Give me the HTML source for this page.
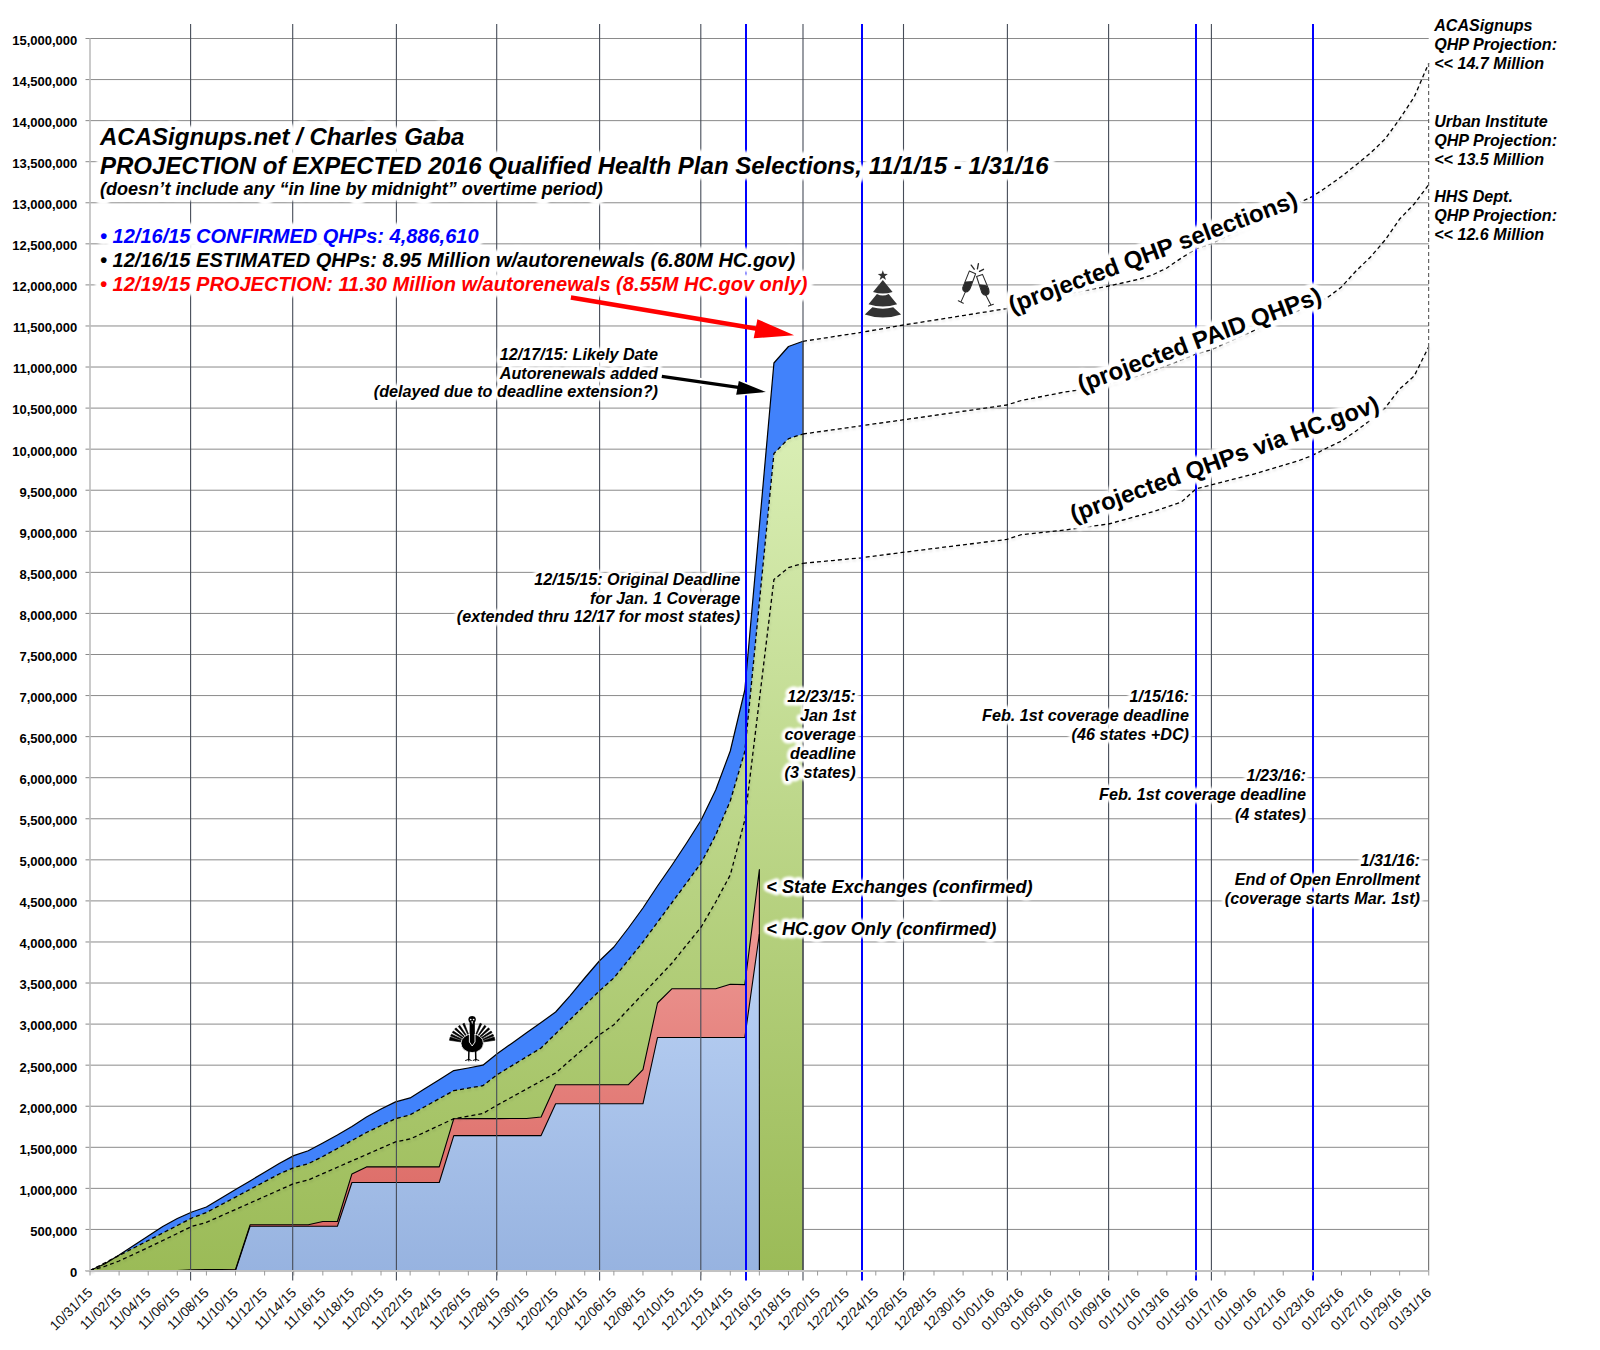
<!DOCTYPE html>
<html><head><meta charset="utf-8"><title>ACASignups 2016 QHP projection</title>
<style>
html,body{margin:0;padding:0;background:#fff;}
svg{display:block;font-family:"Liberation Sans",sans-serif;}
.h{stroke:#fff;stroke-linejoin:round;paint-order:stroke;}
</style></head><body>
<svg width="1600" height="1350" viewBox="0 0 1600 1350">
<defs>
<linearGradient id="gG" x1="0" y1="434" x2="0" y2="1271" gradientUnits="userSpaceOnUse">
<stop offset="0" stop-color="#d9eeb4"/><stop offset="1" stop-color="#9bbb57"/></linearGradient>
<linearGradient id="gR" x1="0" y1="869" x2="0" y2="1271" gradientUnits="userSpaceOnUse">
<stop offset="0" stop-color="#f0a09c"/><stop offset="1" stop-color="#d9625d"/></linearGradient>
<linearGradient id="gL" x1="0" y1="934" x2="0" y2="1271" gradientUnits="userSpaceOnUse">
<stop offset="0" stop-color="#bcd3f5"/><stop offset="1" stop-color="#97b3e0"/></linearGradient>
<filter id="dsh" x="-5%" y="-20%" width="110%" height="140%"><feDropShadow dx="0.5" dy="2" stdDeviation="1" flood-color="#000" flood-opacity="0.13"/></filter>
<filter id="soft" x="-5%" y="-20%" width="110%" height="140%"><feGaussianBlur stdDeviation="0.8"/></filter>
</defs>
<rect width="1600" height="1350" fill="#fff"/>

<g stroke="#8a8a8a" stroke-width="1">
<line x1="85.5" y1="38.5" x2="1428.7" y2="38.5"/>
<line x1="85.5" y1="79.57" x2="1428.7" y2="79.57"/>
<line x1="85.5" y1="120.63" x2="1428.7" y2="120.63"/>
<line x1="85.5" y1="161.7" x2="1428.7" y2="161.7"/>
<line x1="85.5" y1="202.77" x2="1428.7" y2="202.77"/>
<line x1="85.5" y1="243.83" x2="1428.7" y2="243.83"/>
<line x1="85.5" y1="284.9" x2="1428.7" y2="284.9"/>
<line x1="85.5" y1="325.97" x2="1428.7" y2="325.97"/>
<line x1="85.5" y1="367.03" x2="1428.7" y2="367.03"/>
<line x1="85.5" y1="408.1" x2="1428.7" y2="408.1"/>
<line x1="85.5" y1="449.17" x2="1428.7" y2="449.17"/>
<line x1="85.5" y1="490.23" x2="1428.7" y2="490.23"/>
<line x1="85.5" y1="531.3" x2="1428.7" y2="531.3"/>
<line x1="85.5" y1="572.37" x2="1428.7" y2="572.37"/>
<line x1="85.5" y1="613.43" x2="1428.7" y2="613.43"/>
<line x1="85.5" y1="654.5" x2="1428.7" y2="654.5"/>
<line x1="85.5" y1="695.57" x2="1428.7" y2="695.57"/>
<line x1="85.5" y1="736.63" x2="1428.7" y2="736.63"/>
<line x1="85.5" y1="777.7" x2="1428.7" y2="777.7"/>
<line x1="85.5" y1="818.77" x2="1428.7" y2="818.77"/>
<line x1="85.5" y1="859.83" x2="1428.7" y2="859.83"/>
<line x1="85.5" y1="900.9" x2="1428.7" y2="900.9"/>
<line x1="85.5" y1="941.97" x2="1428.7" y2="941.97"/>
<line x1="85.5" y1="983.03" x2="1428.7" y2="983.03"/>
<line x1="85.5" y1="1024.1" x2="1428.7" y2="1024.1"/>
<line x1="85.5" y1="1065.17" x2="1428.7" y2="1065.17"/>
<line x1="85.5" y1="1106.23" x2="1428.7" y2="1106.23"/>
<line x1="85.5" y1="1147.3" x2="1428.7" y2="1147.3"/>
<line x1="85.5" y1="1188.37" x2="1428.7" y2="1188.37"/>
<line x1="85.5" y1="1229.43" x2="1428.7" y2="1229.43"/>
<line x1="85.5" y1="1270.5" x2="1428.7" y2="1270.5"/>
</g>
<polygon points="90.00,1270.50 90.00,1270.50 104.55,1264.00 119.10,1255.00 133.65,1245.50 148.21,1236.00 162.76,1226.50 177.31,1218.50 191.86,1212.00 206.41,1207.00 220.96,1198.30 235.52,1189.60 250.07,1180.90 264.62,1172.20 279.17,1163.50 293.72,1155.60 308.27,1150.80 322.83,1143.00 337.38,1135.00 351.93,1126.50 366.48,1117.00 381.03,1109.00 395.58,1101.90 410.14,1097.90 424.69,1088.80 439.24,1079.70 453.79,1070.60 468.34,1068.00 482.89,1065.20 497.44,1053.50 512.00,1043.17 526.55,1032.83 541.10,1022.50 555.65,1012.00 570.20,995.60 584.75,978.00 599.31,961.00 613.86,947.00 628.41,928.00 642.96,908.00 657.51,886.00 672.06,865.00 686.62,843.00 701.17,820.00 715.72,790.00 730.27,751.00 744.82,690.00 759.37,526.50 773.93,363.00 788.48,346.50 803.03,341.30 803.03,1270.50" fill="#4182fb" stroke="none"/>
<polygon points="90.00,1270.50 90.00,1270.50 104.55,1263.00 119.10,1255.50 133.65,1248.00 148.21,1240.50 162.76,1233.00 177.31,1225.50 191.86,1218.00 206.41,1212.50 220.96,1204.80 235.52,1197.10 250.07,1189.40 264.62,1181.70 279.17,1174.00 293.72,1167.70 308.27,1163.70 322.83,1156.50 337.38,1148.50 351.93,1140.50 366.48,1132.50 381.03,1125.50 395.58,1118.70 410.14,1114.80 424.69,1106.73 439.24,1098.67 453.79,1090.60 468.34,1088.15 482.89,1085.70 497.44,1074.50 512.00,1065.67 526.55,1056.83 541.10,1048.00 555.65,1033.75 570.20,1019.50 584.75,1005.25 599.31,991.00 613.86,978.00 628.41,960.00 642.96,942.00 657.51,922.25 672.06,902.50 686.62,882.75 701.17,863.00 715.72,835.00 730.27,801.00 744.82,751.50 759.37,602.50 773.93,453.50 788.48,438.70 803.03,434.00 803.03,1270.50" fill="url(#gG)" stroke="none"/>
<polygon points="90.00,1270.50 90.00,1270.50 104.55,1270.50 119.10,1270.50 133.65,1270.50 148.21,1270.50 162.76,1270.50 177.31,1270.50 191.86,1269.80 206.41,1269.63 220.96,1269.47 235.52,1269.30 250.07,1224.80 264.62,1224.80 279.17,1224.80 293.72,1224.80 308.27,1224.80 322.83,1221.50 337.38,1221.50 351.93,1173.90 366.48,1166.90 381.03,1166.90 395.58,1166.90 410.14,1166.90 424.69,1166.90 439.24,1166.90 453.79,1118.70 468.34,1118.66 482.89,1118.62 497.44,1118.58 512.00,1118.54 526.55,1118.50 541.10,1117.00 555.65,1084.70 570.20,1084.70 584.75,1084.70 599.31,1084.70 613.86,1084.70 628.41,1084.70 642.96,1069.70 657.51,1003.00 672.06,988.70 686.62,988.70 701.17,988.70 715.72,988.70 730.27,984.30 744.82,984.60 759.37,869.50 759.37,1270.50" fill="url(#gR)" stroke="none"/>
<polygon points="90.00,1270.50 90.00,1270.50 104.55,1270.50 119.10,1270.50 133.65,1270.50 148.21,1270.50 162.76,1270.50 177.31,1270.50 191.86,1270.50 206.41,1270.50 220.96,1270.50 235.52,1270.50 250.07,1226.30 264.62,1226.30 279.17,1226.30 293.72,1226.30 308.27,1226.30 322.83,1226.30 337.38,1226.30 351.93,1182.50 366.48,1182.50 381.03,1182.50 395.58,1182.50 410.14,1182.50 424.69,1182.50 439.24,1182.50 453.79,1135.60 468.34,1135.60 482.89,1135.60 497.44,1135.60 512.00,1135.60 526.55,1135.60 541.10,1135.60 555.65,1103.80 570.20,1103.80 584.75,1103.80 599.31,1103.80 613.86,1103.80 628.41,1103.80 642.96,1103.80 657.51,1037.50 672.06,1037.50 686.62,1037.50 701.17,1037.50 715.72,1037.50 730.27,1037.50 744.82,1037.50 759.37,934.00 759.37,1270.50" fill="url(#gL)" stroke="none"/>
<polyline points="90.00,1270.50 104.55,1264.00 119.10,1255.00 133.65,1245.50 148.21,1236.00 162.76,1226.50 177.31,1218.50 191.86,1212.00 206.41,1207.00 220.96,1198.30 235.52,1189.60 250.07,1180.90 264.62,1172.20 279.17,1163.50 293.72,1155.60 308.27,1150.80 322.83,1143.00 337.38,1135.00 351.93,1126.50 366.48,1117.00 381.03,1109.00 395.58,1101.90 410.14,1097.90 424.69,1088.80 439.24,1079.70 453.79,1070.60 468.34,1068.00 482.89,1065.20 497.44,1053.50 512.00,1043.17 526.55,1032.83 541.10,1022.50 555.65,1012.00 570.20,995.60 584.75,978.00 599.31,961.00 613.86,947.00 628.41,928.00 642.96,908.00 657.51,886.00 672.06,865.00 686.62,843.00 701.17,820.00 715.72,790.00 730.27,751.00 744.82,690.00 759.37,526.50 773.93,363.00 788.48,346.50 803.03,341.30" fill="none" stroke="#000" stroke-width="1.2" stroke-linejoin="round"/>
<polyline points="90.00,1270.50 104.55,1270.50 119.10,1270.50 133.65,1270.50 148.21,1270.50 162.76,1270.50 177.31,1270.50 191.86,1269.80 206.41,1269.63 220.96,1269.47 235.52,1269.30 250.07,1224.80 264.62,1224.80 279.17,1224.80 293.72,1224.80 308.27,1224.80 322.83,1221.50 337.38,1221.50 351.93,1173.90 366.48,1166.90 381.03,1166.90 395.58,1166.90 410.14,1166.90 424.69,1166.90 439.24,1166.90 453.79,1118.70 468.34,1118.66 482.89,1118.62 497.44,1118.58 512.00,1118.54 526.55,1118.50 541.10,1117.00 555.65,1084.70 570.20,1084.70 584.75,1084.70 599.31,1084.70 613.86,1084.70 628.41,1084.70 642.96,1069.70 657.51,1003.00 672.06,988.70 686.62,988.70 701.17,988.70 715.72,988.70 730.27,984.30 744.82,984.60 759.37,869.50 759.37,1270.5" fill="none" stroke="#000" stroke-width="1.1" stroke-linejoin="round"/>
<polyline points="235.52,1270.50 250.07,1226.30 264.62,1226.30 279.17,1226.30 293.72,1226.30 308.27,1226.30 322.83,1226.30 337.38,1226.30 351.93,1182.50 366.48,1182.50 381.03,1182.50 395.58,1182.50 410.14,1182.50 424.69,1182.50 439.24,1182.50 453.79,1135.60 468.34,1135.60 482.89,1135.60 497.44,1135.60 512.00,1135.60 526.55,1135.60 541.10,1135.60 555.65,1103.80 570.20,1103.80 584.75,1103.80 599.31,1103.80 613.86,1103.80 628.41,1103.80 642.96,1103.80 657.51,1037.50 672.06,1037.50 686.62,1037.50 701.17,1037.50 715.72,1037.50 730.27,1037.50 744.82,1037.50 759.37,934.00" fill="none" stroke="#000" stroke-width="1.1" stroke-linejoin="round"/>
<line x1="803.03" y1="341.3" x2="803.03" y2="1270.5" stroke="#333" stroke-width="1.1"/>
<g stroke="#464c58" stroke-width="1.1">
<line x1="190.6" y1="24" x2="190.6" y2="1280.5"/>
<line x1="292.7" y1="24" x2="292.7" y2="1280.5"/>
<line x1="396.4" y1="24" x2="396.4" y2="1280.5"/>
<line x1="496.7" y1="24" x2="496.7" y2="1280.5"/>
<line x1="599.6" y1="24" x2="599.6" y2="1280.5"/>
<line x1="700.8" y1="24" x2="700.8" y2="1280.5"/>
<line x1="803.0" y1="24" x2="803.0" y2="1280.5"/>
<line x1="903.5" y1="24" x2="903.5" y2="1280.5"/>
<line x1="1007.4" y1="24" x2="1007.4" y2="1280.5"/>
<line x1="1108.6" y1="24" x2="1108.6" y2="1280.5"/>
<line x1="1211.4" y1="24" x2="1211.4" y2="1280.5"/>
</g>
<polyline points="90.00,1270.50 104.55,1263.00 119.10,1255.50 133.65,1248.00 148.21,1240.50 162.76,1233.00 177.31,1225.50 191.86,1218.00 206.41,1212.50 220.96,1204.80 235.52,1197.10 250.07,1189.40 264.62,1181.70 279.17,1174.00 293.72,1167.70 308.27,1163.70 322.83,1156.50 337.38,1148.50 351.93,1140.50 366.48,1132.50 381.03,1125.50 395.58,1118.70 410.14,1114.80 424.69,1106.73 439.24,1098.67 453.79,1090.60 468.34,1088.15 482.89,1085.70 497.44,1074.50 512.00,1065.67 526.55,1056.83 541.10,1048.00 555.65,1033.75 570.20,1019.50 584.75,1005.25 599.31,991.00 613.86,978.00 628.41,960.00 642.96,942.00 657.51,922.25 672.06,902.50 686.62,882.75 701.17,863.00 715.72,835.00 730.27,801.00 744.82,751.50 759.37,602.50 773.93,453.50 788.48,438.70 803.03,434.00" fill="none" stroke="#000" stroke-width="1.3" stroke-dasharray="4 3" filter="url(#dsh)"/>
<polyline points="90.00,1270.50 104.55,1266.50 119.10,1261.00 133.65,1254.25 148.21,1247.50 162.76,1240.50 177.31,1233.50 191.86,1226.30 206.41,1222.40 220.96,1215.93 235.52,1209.47 250.07,1203.00 264.62,1196.53 279.17,1190.07 293.72,1183.60 308.27,1180.00 322.83,1173.63 337.38,1167.27 351.93,1160.90 366.48,1154.53 381.03,1148.17 395.58,1141.80 410.14,1139.00 424.69,1132.23 439.24,1125.47 453.79,1118.70 468.34,1116.10 482.89,1113.50 497.44,1105.00 512.00,1097.00 526.55,1089.00 541.10,1081.00 555.65,1073.00 570.20,1060.33 584.75,1047.67 599.31,1035.00 613.86,1024.70 628.41,1009.28 642.96,993.85 657.51,978.42 672.06,963.00 686.62,945.00 701.17,927.00 715.72,902.00 730.27,875.00 744.82,820.00 759.37,699.80 773.93,579.60 788.48,567.70 803.03,563.30" fill="none" stroke="#000" stroke-width="1.3" stroke-dasharray="4 3" filter="url(#dsh)"/>
<polyline points="803.03,341.30 817.58,339.07 832.13,336.85 846.68,334.62 861.23,332.40 875.79,329.87 890.34,327.33 904.89,324.80 919.44,322.49 933.99,320.17 948.54,317.86 963.10,315.54 977.65,313.23 992.20,310.91 1006.75,308.60 1021.30,304.00 1035.85,300.83 1050.41,297.67 1064.96,294.50 1079.51,291.67 1094.06,288.83 1108.61,286.00 1123.16,282.75 1137.72,279.50 1152.27,275.00 1166.82,268.00 1181.37,258.00 1195.92,249.00 1210.47,244.00 1225.02,237.21 1239.58,230.43 1254.13,223.64 1268.68,216.86 1283.23,210.07 1297.78,203.29 1312.33,196.50 1326.89,187.00 1341.44,176.50 1355.99,165.00 1370.54,153.00 1385.09,139.00 1399.64,119.00 1414.20,97.00 1428.75,63.20" fill="none" stroke="#000" stroke-width="1.3" stroke-dasharray="4 3" filter="url(#dsh)"/>
<polyline points="803.03,434.00 817.58,431.95 832.13,429.90 846.68,427.85 861.23,425.80 875.79,423.73 890.34,421.67 904.89,419.60 919.44,417.51 933.99,415.43 948.54,413.34 963.10,411.26 977.65,409.17 992.20,407.09 1006.75,405.00 1021.30,400.50 1035.85,397.67 1050.41,394.83 1064.96,392.00 1079.51,390.00 1094.06,387.00 1108.61,384.00 1123.16,380.00 1137.72,376.00 1152.27,371.00 1166.82,365.50 1181.37,360.00 1195.92,354.00 1210.47,350.00 1225.02,343.50 1239.58,337.00 1254.13,330.50 1268.68,324.00 1283.23,317.50 1297.78,311.00 1312.33,304.50 1326.89,298.00 1341.44,287.00 1355.99,271.00 1370.54,257.00 1385.09,240.00 1399.64,219.00 1414.20,204.00 1428.75,184.60" fill="none" stroke="#000" stroke-width="1.3" stroke-dasharray="4 3" filter="url(#dsh)"/>
<polyline points="803.03,563.30 817.58,561.92 832.13,560.55 846.68,559.17 861.23,557.80 875.79,555.90 890.34,554.00 904.89,552.10 919.44,550.29 933.99,548.47 948.54,546.66 963.10,544.84 977.65,543.03 992.20,541.21 1006.75,539.40 1021.30,534.70 1035.85,533.13 1050.41,531.57 1064.96,530.00 1079.51,528.00 1094.06,526.00 1108.61,524.00 1123.16,520.00 1137.72,516.00 1152.27,512.00 1166.82,507.00 1181.37,502.00 1195.92,489.00 1210.47,485.00 1225.02,481.33 1239.58,477.67 1254.13,474.00 1268.68,469.67 1283.23,465.33 1297.78,461.00 1312.33,455.40 1326.89,448.00 1341.44,441.00 1355.99,431.00 1370.54,420.00 1385.09,408.00 1399.64,389.00 1414.20,376.00 1428.75,346.70" fill="none" stroke="#000" stroke-width="1.3" stroke-dasharray="4 3" filter="url(#dsh)"/>
<line x1="1428.6" y1="63" x2="1428.6" y2="347" fill="none" stroke="#666" stroke-width="1.2" stroke-dasharray="4 3"/>
<line x1="1428.6" y1="347" x2="1428.6" y2="1271" stroke="#7a7a7a" stroke-width="1.2"/>
<line x1="746.0" y1="24" x2="746.0" y2="1280.5" stroke="#0000ff" stroke-width="2"/>
<line x1="862.0" y1="24" x2="862.0" y2="1280.5" stroke="#0000ff" stroke-width="2"/>
<line x1="1196.0" y1="24" x2="1196.0" y2="1280.5" stroke="#0000ff" stroke-width="2"/>
<line x1="1313.0" y1="24" x2="1313.0" y2="1280.5" stroke="#0000ff" stroke-width="2"/>
<line x1="90" y1="38.5" x2="90" y2="1271" stroke="#bdbdbd" stroke-width="1.6"/>
<line x1="85.5" y1="1271" x2="1428.7" y2="1271" stroke="#c2c2c2" stroke-width="1.8"/>
<g stroke="#9a9a9a" stroke-width="1">
<line x1="90.00" y1="1271" x2="90.00" y2="1275.5"/>
<line x1="119.10" y1="1271" x2="119.10" y2="1275.5"/>
<line x1="148.21" y1="1271" x2="148.21" y2="1275.5"/>
<line x1="177.31" y1="1271" x2="177.31" y2="1275.5"/>
<line x1="206.41" y1="1271" x2="206.41" y2="1275.5"/>
<line x1="235.52" y1="1271" x2="235.52" y2="1275.5"/>
<line x1="264.62" y1="1271" x2="264.62" y2="1275.5"/>
<line x1="293.72" y1="1271" x2="293.72" y2="1275.5"/>
<line x1="322.83" y1="1271" x2="322.83" y2="1275.5"/>
<line x1="351.93" y1="1271" x2="351.93" y2="1275.5"/>
<line x1="381.03" y1="1271" x2="381.03" y2="1275.5"/>
<line x1="410.14" y1="1271" x2="410.14" y2="1275.5"/>
<line x1="439.24" y1="1271" x2="439.24" y2="1275.5"/>
<line x1="468.34" y1="1271" x2="468.34" y2="1275.5"/>
<line x1="497.44" y1="1271" x2="497.44" y2="1275.5"/>
<line x1="526.55" y1="1271" x2="526.55" y2="1275.5"/>
<line x1="555.65" y1="1271" x2="555.65" y2="1275.5"/>
<line x1="584.75" y1="1271" x2="584.75" y2="1275.5"/>
<line x1="613.86" y1="1271" x2="613.86" y2="1275.5"/>
<line x1="642.96" y1="1271" x2="642.96" y2="1275.5"/>
<line x1="672.06" y1="1271" x2="672.06" y2="1275.5"/>
<line x1="701.17" y1="1271" x2="701.17" y2="1275.5"/>
<line x1="730.27" y1="1271" x2="730.27" y2="1275.5"/>
<line x1="759.37" y1="1271" x2="759.37" y2="1275.5"/>
<line x1="788.48" y1="1271" x2="788.48" y2="1275.5"/>
<line x1="817.58" y1="1271" x2="817.58" y2="1275.5"/>
<line x1="846.68" y1="1271" x2="846.68" y2="1275.5"/>
<line x1="875.79" y1="1271" x2="875.79" y2="1275.5"/>
<line x1="904.89" y1="1271" x2="904.89" y2="1275.5"/>
<line x1="933.99" y1="1271" x2="933.99" y2="1275.5"/>
<line x1="963.10" y1="1271" x2="963.10" y2="1275.5"/>
<line x1="992.20" y1="1271" x2="992.20" y2="1275.5"/>
<line x1="1021.30" y1="1271" x2="1021.30" y2="1275.5"/>
<line x1="1050.41" y1="1271" x2="1050.41" y2="1275.5"/>
<line x1="1079.51" y1="1271" x2="1079.51" y2="1275.5"/>
<line x1="1108.61" y1="1271" x2="1108.61" y2="1275.5"/>
<line x1="1137.72" y1="1271" x2="1137.72" y2="1275.5"/>
<line x1="1166.82" y1="1271" x2="1166.82" y2="1275.5"/>
<line x1="1195.92" y1="1271" x2="1195.92" y2="1275.5"/>
<line x1="1225.02" y1="1271" x2="1225.02" y2="1275.5"/>
<line x1="1254.13" y1="1271" x2="1254.13" y2="1275.5"/>
<line x1="1283.23" y1="1271" x2="1283.23" y2="1275.5"/>
<line x1="1312.33" y1="1271" x2="1312.33" y2="1275.5"/>
<line x1="1341.44" y1="1271" x2="1341.44" y2="1275.5"/>
<line x1="1370.54" y1="1271" x2="1370.54" y2="1275.5"/>
<line x1="1399.64" y1="1271" x2="1399.64" y2="1275.5"/>
<line x1="1428.75" y1="1271" x2="1428.75" y2="1275.5"/>
</g>
<g font-size="13" font-weight="bold" text-anchor="end" fill="#000">
<text x="77.3" y="1276.8">0</text>
<text x="77.3" y="1235.7">500,000</text>
<text x="77.3" y="1194.7">1,000,000</text>
<text x="77.3" y="1153.6">1,500,000</text>
<text x="77.3" y="1112.5">2,000,000</text>
<text x="77.3" y="1071.5">2,500,000</text>
<text x="77.3" y="1030.4">3,000,000</text>
<text x="77.3" y="989.3">3,500,000</text>
<text x="77.3" y="948.3">4,000,000</text>
<text x="77.3" y="907.2">4,500,000</text>
<text x="77.3" y="866.1">5,000,000</text>
<text x="77.3" y="825.1">5,500,000</text>
<text x="77.3" y="784.0">6,000,000</text>
<text x="77.3" y="742.9">6,500,000</text>
<text x="77.3" y="701.9">7,000,000</text>
<text x="77.3" y="660.8">7,500,000</text>
<text x="77.3" y="619.7">8,000,000</text>
<text x="77.3" y="578.7">8,500,000</text>
<text x="77.3" y="537.6">9,000,000</text>
<text x="77.3" y="496.5">9,500,000</text>
<text x="77.3" y="455.5">10,000,000</text>
<text x="77.3" y="414.4">10,500,000</text>
<text x="77.3" y="373.3">11,000,000</text>
<text x="77.3" y="332.3">11,500,000</text>
<text x="77.3" y="291.2">12,000,000</text>
<text x="77.3" y="250.1">12,500,000</text>
<text x="77.3" y="209.1">13,000,000</text>
<text x="77.3" y="168.0">13,500,000</text>
<text x="77.3" y="126.9">14,000,000</text>
<text x="77.3" y="85.9">14,500,000</text>
<text x="77.3" y="44.8">15,000,000</text>
</g>
<g font-size="13.7" text-anchor="end" fill="#111">
<text transform="translate(93.30,1293.6) rotate(-45)">10/31/15</text>
<text transform="translate(122.40,1293.6) rotate(-45)">11/02/15</text>
<text transform="translate(151.51,1293.6) rotate(-45)">11/04/15</text>
<text transform="translate(180.61,1293.6) rotate(-45)">11/06/15</text>
<text transform="translate(209.71,1293.6) rotate(-45)">11/08/15</text>
<text transform="translate(238.82,1293.6) rotate(-45)">11/10/15</text>
<text transform="translate(267.92,1293.6) rotate(-45)">11/12/15</text>
<text transform="translate(297.02,1293.6) rotate(-45)">11/14/15</text>
<text transform="translate(326.13,1293.6) rotate(-45)">11/16/15</text>
<text transform="translate(355.23,1293.6) rotate(-45)">11/18/15</text>
<text transform="translate(384.33,1293.6) rotate(-45)">11/20/15</text>
<text transform="translate(413.44,1293.6) rotate(-45)">11/22/15</text>
<text transform="translate(442.54,1293.6) rotate(-45)">11/24/15</text>
<text transform="translate(471.64,1293.6) rotate(-45)">11/26/15</text>
<text transform="translate(500.74,1293.6) rotate(-45)">11/28/15</text>
<text transform="translate(529.85,1293.6) rotate(-45)">11/30/15</text>
<text transform="translate(558.95,1293.6) rotate(-45)">12/02/15</text>
<text transform="translate(588.05,1293.6) rotate(-45)">12/04/15</text>
<text transform="translate(617.16,1293.6) rotate(-45)">12/06/15</text>
<text transform="translate(646.26,1293.6) rotate(-45)">12/08/15</text>
<text transform="translate(675.36,1293.6) rotate(-45)">12/10/15</text>
<text transform="translate(704.47,1293.6) rotate(-45)">12/12/15</text>
<text transform="translate(733.57,1293.6) rotate(-45)">12/14/15</text>
<text transform="translate(762.67,1293.6) rotate(-45)">12/16/15</text>
<text transform="translate(791.78,1293.6) rotate(-45)">12/18/15</text>
<text transform="translate(820.88,1293.6) rotate(-45)">12/20/15</text>
<text transform="translate(849.98,1293.6) rotate(-45)">12/22/15</text>
<text transform="translate(879.09,1293.6) rotate(-45)">12/24/15</text>
<text transform="translate(908.19,1293.6) rotate(-45)">12/26/15</text>
<text transform="translate(937.29,1293.6) rotate(-45)">12/28/15</text>
<text transform="translate(966.40,1293.6) rotate(-45)">12/30/15</text>
<text transform="translate(995.50,1293.6) rotate(-45)">01/01/16</text>
<text transform="translate(1024.60,1293.6) rotate(-45)">01/03/16</text>
<text transform="translate(1053.71,1293.6) rotate(-45)">01/05/16</text>
<text transform="translate(1082.81,1293.6) rotate(-45)">01/07/16</text>
<text transform="translate(1111.91,1293.6) rotate(-45)">01/09/16</text>
<text transform="translate(1141.02,1293.6) rotate(-45)">01/11/16</text>
<text transform="translate(1170.12,1293.6) rotate(-45)">01/13/16</text>
<text transform="translate(1199.22,1293.6) rotate(-45)">01/15/16</text>
<text transform="translate(1228.32,1293.6) rotate(-45)">01/17/16</text>
<text transform="translate(1257.43,1293.6) rotate(-45)">01/19/16</text>
<text transform="translate(1286.53,1293.6) rotate(-45)">01/21/16</text>
<text transform="translate(1315.63,1293.6) rotate(-45)">01/23/16</text>
<text transform="translate(1344.74,1293.6) rotate(-45)">01/25/16</text>
<text transform="translate(1373.84,1293.6) rotate(-45)">01/27/16</text>
<text transform="translate(1402.94,1293.6) rotate(-45)">01/29/16</text>
<text transform="translate(1432.05,1293.6) rotate(-45)">01/31/16</text>
</g>
<g fill="#fff" stroke="#fff" stroke-linejoin="round" filter="url(#soft)">
<text x="100" y="144.8" font-size="24.03" font-weight="bold" font-style="italic" text-anchor="start" stroke-width="12" >ACASignups.net / Charles Gaba</text>
<text x="100" y="174" font-size="24.03" font-weight="bold" font-style="italic" text-anchor="start" stroke-width="12" >PROJECTION of EXPECTED 2016 Qualified Health Plan Selections, 11/1/15 - 1/31/16</text>
<text x="100" y="194.5" font-size="18.02" font-weight="bold" font-style="italic" text-anchor="start" stroke-width="12" >(doesn’t include any “in line by midnight” overtime period)</text>
<text x="100" y="243.1" font-size="20.02" font-weight="bold" font-style="italic" text-anchor="start" stroke-width="12" >• 12/16/15 CONFIRMED QHPs: 4,886,610</text>
<text x="100" y="267.1" font-size="20.02" font-weight="bold" font-style="italic" text-anchor="start" stroke-width="12" >• 12/16/15 ESTIMATED QHPs: 8.95 Million w/autorenewals (6.80M HC.gov)</text>
<text x="100" y="291.1" font-size="20.02" font-weight="bold" font-style="italic" text-anchor="start" stroke-width="12" >• 12/19/15 PROJECTION: 11.30 Million w/autorenewals (8.55M HC.gov only)</text>
<text x="1434.2" y="31.0" font-size="16.1" font-weight="bold" font-style="italic" text-anchor="start" stroke-width="6" >ACASignups</text>
<text x="1434.2" y="49.9" font-size="16.1" font-weight="bold" font-style="italic" text-anchor="start" stroke-width="6" >QHP Projection:</text>
<text x="1434.2" y="68.8" font-size="16.1" font-weight="bold" font-style="italic" text-anchor="start" stroke-width="6" >&lt;&lt; 14.7 Million</text>
<text x="1434.2" y="127.3" font-size="16.1" font-weight="bold" font-style="italic" text-anchor="start" stroke-width="6" >Urban Institute</text>
<text x="1434.2" y="146.2" font-size="16.1" font-weight="bold" font-style="italic" text-anchor="start" stroke-width="6" >QHP Projection:</text>
<text x="1434.2" y="165.1" font-size="16.1" font-weight="bold" font-style="italic" text-anchor="start" stroke-width="6" >&lt;&lt; 13.5 Million</text>
<text x="1434.2" y="202.0" font-size="16.1" font-weight="bold" font-style="italic" text-anchor="start" stroke-width="6" >HHS Dept.</text>
<text x="1434.2" y="220.9" font-size="16.1" font-weight="bold" font-style="italic" text-anchor="start" stroke-width="6" >QHP Projection:</text>
<text x="1434.2" y="239.8" font-size="16.1" font-weight="bold" font-style="italic" text-anchor="start" stroke-width="6" >&lt;&lt; 12.6 Million</text>
<text x="658" y="359.7" font-size="16.2" font-weight="bold" font-style="italic" text-anchor="end" stroke-width="7" >12/17/15: Likely Date</text>
<text x="658" y="378.6" font-size="16.2" font-weight="bold" font-style="italic" text-anchor="end" stroke-width="7" >Autorenewals added</text>
<text x="658" y="397.4" font-size="16.2" font-weight="bold" font-style="italic" text-anchor="end" stroke-width="7" >(delayed due to deadline extension?)</text>
<text x="740.2" y="584.8" font-size="16.2" font-weight="bold" font-style="italic" text-anchor="end" stroke-width="7" >12/15/15: Original Deadline</text>
<text x="740.2" y="603.5" font-size="16.2" font-weight="bold" font-style="italic" text-anchor="end" stroke-width="7" >for Jan. 1 Coverage</text>
<text x="740.2" y="622.2" font-size="16.2" font-weight="bold" font-style="italic" text-anchor="end" stroke-width="7" >(extended thru 12/17 for most states)</text>
<text x="855.7" y="701.6" font-size="16.2" font-weight="bold" font-style="italic" text-anchor="end" stroke-width="7" >12/23/15:</text>
<text x="855.7" y="720.6" font-size="16.2" font-weight="bold" font-style="italic" text-anchor="end" stroke-width="7" >Jan 1st</text>
<text x="855.7" y="739.7" font-size="16.2" font-weight="bold" font-style="italic" text-anchor="end" stroke-width="7" >coverage</text>
<text x="855.7" y="758.8" font-size="16.2" font-weight="bold" font-style="italic" text-anchor="end" stroke-width="7" >deadline</text>
<text x="855.7" y="777.8" font-size="16.2" font-weight="bold" font-style="italic" text-anchor="end" stroke-width="7" >(3 states)</text>
<text x="1189" y="701.6" font-size="16.2" font-weight="bold" font-style="italic" text-anchor="end" stroke-width="7" >1/15/16:</text>
<text x="1189" y="720.8" font-size="16.2" font-weight="bold" font-style="italic" text-anchor="end" stroke-width="7" >Feb. 1st coverage deadline</text>
<text x="1189" y="740.0" font-size="16.2" font-weight="bold" font-style="italic" text-anchor="end" stroke-width="7" >(46 states +DC)</text>
<text x="1306" y="781.4" font-size="16.2" font-weight="bold" font-style="italic" text-anchor="end" stroke-width="7" >1/23/16:</text>
<text x="1306" y="800.4" font-size="16.2" font-weight="bold" font-style="italic" text-anchor="end" stroke-width="7" >Feb. 1st coverage deadline</text>
<text x="1306" y="819.5" font-size="16.2" font-weight="bold" font-style="italic" text-anchor="end" stroke-width="7" >(4 states)</text>
<text x="1420" y="866.1" font-size="16.2" font-weight="bold" font-style="italic" text-anchor="end" stroke-width="7" >1/31/16:</text>
<text x="1420" y="884.8" font-size="16.2" font-weight="bold" font-style="italic" text-anchor="end" stroke-width="7" >End of Open Enrollment</text>
<text x="1420" y="903.5" font-size="16.2" font-weight="bold" font-style="italic" text-anchor="end" stroke-width="7" >(coverage starts Mar. 1st)</text>
<text x="766.3" y="892.8" font-size="18.2" font-weight="bold" font-style="italic" text-anchor="start" stroke-width="7" >&lt; State Exchanges (confirmed)</text>
<text x="766.3" y="935" font-size="18.2" font-weight="bold" font-style="italic" text-anchor="start" stroke-width="7" >&lt; HC.gov Only (confirmed)</text>
<text transform="translate(1012.3,313.5) rotate(-20.5)" font-size="24" font-weight="bold" stroke-width="10">(projected QHP selections)</text>
<text transform="translate(1081.3,392.6) rotate(-20.5)" font-size="24" font-weight="bold" stroke-width="10">(projected PAID QHPs)</text>
<text transform="translate(1073.7,522.5) rotate(-20)" font-size="24" font-weight="bold" stroke-width="10">(projected QHPs via HC.gov)</text>
</g>
<g>
<text x="100" y="144.8" font-size="24.03" font-weight="bold" font-style="italic" fill="#000" text-anchor="start" >ACASignups.net / Charles Gaba</text>
<text x="100" y="174" font-size="24.03" font-weight="bold" font-style="italic" fill="#000" text-anchor="start" >PROJECTION of EXPECTED 2016 Qualified Health Plan Selections, 11/1/15 - 1/31/16</text>
<text x="100" y="194.5" font-size="18.02" font-weight="bold" font-style="italic" fill="#000" text-anchor="start" >(doesn’t include any “in line by midnight” overtime period)</text>
<text x="100" y="243.1" font-size="20.02" font-weight="bold" font-style="italic" fill="#0000ff" text-anchor="start" >• 12/16/15 CONFIRMED QHPs: 4,886,610</text>
<text x="100" y="267.1" font-size="20.02" font-weight="bold" font-style="italic" fill="#000" text-anchor="start" >• 12/16/15 ESTIMATED QHPs: 8.95 Million w/autorenewals (6.80M HC.gov)</text>
<text x="100" y="291.1" font-size="20.02" font-weight="bold" font-style="italic" fill="#ff0000" text-anchor="start" >• 12/19/15 PROJECTION: 11.30 Million w/autorenewals (8.55M HC.gov only)</text>
<text x="1434.2" y="31.0" font-size="16.1" font-weight="bold" font-style="italic" fill="#000" text-anchor="start" >ACASignups</text>
<text x="1434.2" y="49.9" font-size="16.1" font-weight="bold" font-style="italic" fill="#000" text-anchor="start" >QHP Projection:</text>
<text x="1434.2" y="68.8" font-size="16.1" font-weight="bold" font-style="italic" fill="#000" text-anchor="start" >&lt;&lt; 14.7 Million</text>
<text x="1434.2" y="127.3" font-size="16.1" font-weight="bold" font-style="italic" fill="#000" text-anchor="start" >Urban Institute</text>
<text x="1434.2" y="146.2" font-size="16.1" font-weight="bold" font-style="italic" fill="#000" text-anchor="start" >QHP Projection:</text>
<text x="1434.2" y="165.1" font-size="16.1" font-weight="bold" font-style="italic" fill="#000" text-anchor="start" >&lt;&lt; 13.5 Million</text>
<text x="1434.2" y="202.0" font-size="16.1" font-weight="bold" font-style="italic" fill="#000" text-anchor="start" >HHS Dept.</text>
<text x="1434.2" y="220.9" font-size="16.1" font-weight="bold" font-style="italic" fill="#000" text-anchor="start" >QHP Projection:</text>
<text x="1434.2" y="239.8" font-size="16.1" font-weight="bold" font-style="italic" fill="#000" text-anchor="start" >&lt;&lt; 12.6 Million</text>
<text x="658" y="359.7" font-size="16.2" font-weight="bold" font-style="italic" fill="#000" text-anchor="end" >12/17/15: Likely Date</text>
<text x="658" y="378.6" font-size="16.2" font-weight="bold" font-style="italic" fill="#000" text-anchor="end" >Autorenewals added</text>
<text x="658" y="397.4" font-size="16.2" font-weight="bold" font-style="italic" fill="#000" text-anchor="end" >(delayed due to deadline extension?)</text>
<text x="740.2" y="584.8" font-size="16.2" font-weight="bold" font-style="italic" fill="#000" text-anchor="end" >12/15/15: Original Deadline</text>
<text x="740.2" y="603.5" font-size="16.2" font-weight="bold" font-style="italic" fill="#000" text-anchor="end" >for Jan. 1 Coverage</text>
<text x="740.2" y="622.2" font-size="16.2" font-weight="bold" font-style="italic" fill="#000" text-anchor="end" >(extended thru 12/17 for most states)</text>
<text x="855.7" y="701.6" font-size="16.2" font-weight="bold" font-style="italic" fill="#000" text-anchor="end" >12/23/15:</text>
<text x="855.7" y="720.6" font-size="16.2" font-weight="bold" font-style="italic" fill="#000" text-anchor="end" >Jan 1st</text>
<text x="855.7" y="739.7" font-size="16.2" font-weight="bold" font-style="italic" fill="#000" text-anchor="end" >coverage</text>
<text x="855.7" y="758.8" font-size="16.2" font-weight="bold" font-style="italic" fill="#000" text-anchor="end" >deadline</text>
<text x="855.7" y="777.8" font-size="16.2" font-weight="bold" font-style="italic" fill="#000" text-anchor="end" >(3 states)</text>
<text x="1189" y="701.6" font-size="16.2" font-weight="bold" font-style="italic" fill="#000" text-anchor="end" >1/15/16:</text>
<text x="1189" y="720.8" font-size="16.2" font-weight="bold" font-style="italic" fill="#000" text-anchor="end" >Feb. 1st coverage deadline</text>
<text x="1189" y="740.0" font-size="16.2" font-weight="bold" font-style="italic" fill="#000" text-anchor="end" >(46 states +DC)</text>
<text x="1306" y="781.4" font-size="16.2" font-weight="bold" font-style="italic" fill="#000" text-anchor="end" >1/23/16:</text>
<text x="1306" y="800.4" font-size="16.2" font-weight="bold" font-style="italic" fill="#000" text-anchor="end" >Feb. 1st coverage deadline</text>
<text x="1306" y="819.5" font-size="16.2" font-weight="bold" font-style="italic" fill="#000" text-anchor="end" >(4 states)</text>
<text x="1420" y="866.1" font-size="16.2" font-weight="bold" font-style="italic" fill="#000" text-anchor="end" >1/31/16:</text>
<text x="1420" y="884.8" font-size="16.2" font-weight="bold" font-style="italic" fill="#000" text-anchor="end" >End of Open Enrollment</text>
<text x="1420" y="903.5" font-size="16.2" font-weight="bold" font-style="italic" fill="#000" text-anchor="end" >(coverage starts Mar. 1st)</text>
<text x="766.3" y="892.8" font-size="18.2" font-weight="bold" font-style="italic" fill="#000" text-anchor="start" >&lt; State Exchanges (confirmed)</text>
<text x="766.3" y="935" font-size="18.2" font-weight="bold" font-style="italic" fill="#000" text-anchor="start" >&lt; HC.gov Only (confirmed)</text>
<text transform="translate(1012.3,313.5) rotate(-20.5)" font-size="24" font-weight="bold" fill="#000">(projected QHP selections)</text>
<text transform="translate(1081.3,392.6) rotate(-20.5)" font-size="24" font-weight="bold" fill="#000">(projected PAID QHPs)</text>
<text transform="translate(1073.7,522.5) rotate(-20)" font-size="24" font-weight="bold" fill="#000">(projected QHPs via HC.gov)</text>
</g>
<g>
<line x1="570.9" y1="297.6" x2="760" y2="329.3" stroke="#ff0000" stroke-width="4.6"/>
<polygon points="794.1,335.2 757.4,319.2 753.7,338.3" fill="#ff0000"/>
<line x1="661.8" y1="376.3" x2="740" y2="387.7" stroke="#fff" stroke-width="8" stroke-linecap="round"/>
<polygon points="765.9,392 738.8,380.9 736.2,394.7" fill="#000" stroke="#fff" stroke-width="3" stroke-linejoin="round" paint-order="stroke"/>
<line x1="661.8" y1="376.3" x2="740" y2="387.7" stroke="#000" stroke-width="3.3"/>
</g>
<g fill="#000">
<path d="M463.54,1041.51 L450.23,1036.98 L449.44,1040.28 L463.36,1042.29 Z M481.04,1042.29 L494.96,1040.28 L494.17,1036.98 L480.86,1041.51 Z M464.06,1040.14 L451.48,1034.20 L450.70,1036.05 L463.75,1040.88 Z M480.65,1040.88 L493.70,1036.05 L492.92,1034.20 L480.34,1040.14 Z M464.80,1038.87 L453.33,1030.99 L452.32,1032.60 L464.37,1039.54 Z M480.03,1039.54 L492.08,1032.60 L491.07,1030.99 L479.60,1038.87 Z M465.83,1037.62 L455.96,1027.83 L454.67,1029.23 L465.29,1038.21 Z M479.11,1038.21 L489.73,1029.23 L488.44,1027.83 L478.57,1037.62 Z M467.23,1036.48 L459.80,1025.32 L458.27,1026.44 L466.59,1036.95 Z M477.81,1036.95 L486.13,1026.44 L484.60,1025.32 L477.17,1036.48 Z M469.05,1035.56 L464.35,1023.21 L462.70,1023.92 L468.32,1035.87 Z M476.08,1035.87 L481.70,1023.92 L480.05,1023.21 L475.35,1035.56 Z" stroke="#000" stroke-width="0.6" stroke-linejoin="round"/>
<circle cx="472.1" cy="1019.6" r="3.7"/>
<rect x="469.8" y="1020" width="4.8" height="22" rx="2"/>
<ellipse cx="472.2" cy="1043.3" rx="11.2" ry="9.3" stroke="#fff" stroke-width="0.8"/>
<rect x="469.8" y="1022" width="4.8" height="20" rx="1.5"/>
<path d="M469.4,1034 L469.4,1042 L472.2,1046 L475,1042 L475,1034" fill="none" stroke="#fff" stroke-width="0.9"/>
<circle cx="470.7" cy="1019.5" r="0.85" fill="#fff"/><circle cx="473.6" cy="1019.5" r="0.85" fill="#fff"/>
<path d="M471.3,1021.3 L473.1,1021.3 L472.2,1024.2 Z" fill="#fff"/>
<g stroke="#000" stroke-width="1.5" stroke-linecap="round">
<line x1="468.9" y1="1051" x2="468.7" y2="1059.3"/><line x1="475.6" y1="1051" x2="475.8" y2="1059.3"/>
</g>
<g stroke="#000" stroke-width="1" stroke-linecap="round">
<line x1="465.6" y1="1060.4" x2="468.7" y2="1059.4"/><line x1="468.7" y1="1059.4" x2="471.2" y2="1060.4"/><line x1="468.7" y1="1059.4" x2="468.8" y2="1061"/>
<line x1="473.2" y1="1060.4" x2="475.8" y2="1059.4"/><line x1="475.8" y1="1059.4" x2="478.8" y2="1060.4"/><line x1="475.8" y1="1059.4" x2="475.7" y2="1061"/>
</g>
</g>
<g fill="#333">
<path d="M882.80,270.30 L884.06,273.86 L887.84,273.96 L884.84,276.26 L885.92,279.89 L882.80,277.75 L879.68,279.89 L880.76,276.26 L877.76,273.96 L881.54,273.86 Z"/>
<path d="M882.8,280.1 L892.6,292.1 Q882.8,295.1 873.0,292.1 Z"/>
<path d="M876.9,293.9 Q882.8,297.3 888.7,293.9 L897.1,304.2 Q882.8,308.6 868.5,304.2 Z"/>
<path d="M872.4,307.3 Q882.8,310.1 893.2,307.3 L901.1,314.5 Q882.8,320.7 864.8,314.5 Z"/>
</g>
<g fill="none" stroke="#2a2a2a" stroke-width="1.05" stroke-linecap="round" stroke-linejoin="round">
<path d="M969.3,271.1 L975.6,273.8 L970.4,287.8 Q968.6,292.2 965.6,291.9 Q962.3,291.2 962.8,287.4 Z"/>
<line x1="965.4" y1="291.9" x2="961.2" y2="301.4"/><line x1="958.3" y1="300.8" x2="963.3" y2="303.2"/>
<path d="M976.6,276.5 L982.5,274.4 L988.7,289.3 Q989.9,293.9 986.6,295.1 Q983.5,295.9 981.9,292.8 Z"/>
<line x1="985.9" y1="295.2" x2="990.8" y2="304.7"/><line x1="988.5" y1="306.1" x2="993.4" y2="304.3"/>
</g>
<g stroke="#2a2a2a" stroke-width="1.35" stroke-linecap="round">
<line x1="971.2" y1="265.1" x2="974.2" y2="269.2"/><line x1="978.4" y1="263.6" x2="977.4" y2="268.8"/>
<line x1="983.5" y1="269.3" x2="979.5" y2="271.4"/>
</g>
<g fill="#2a2a2a">
<path d="M965.3,281.6 L972.6,281.0 L970.4,287.8 Q968.6,292.2 965.6,291.9 Q962.3,291.2 962.8,287.4 Z"/>
<path d="M979.4,284.2 L986.5,285.3 L988.7,289.3 Q989.9,293.9 986.6,295.1 Q983.5,295.9 981.9,292.8 Z"/>
</g>
</svg></body></html>
